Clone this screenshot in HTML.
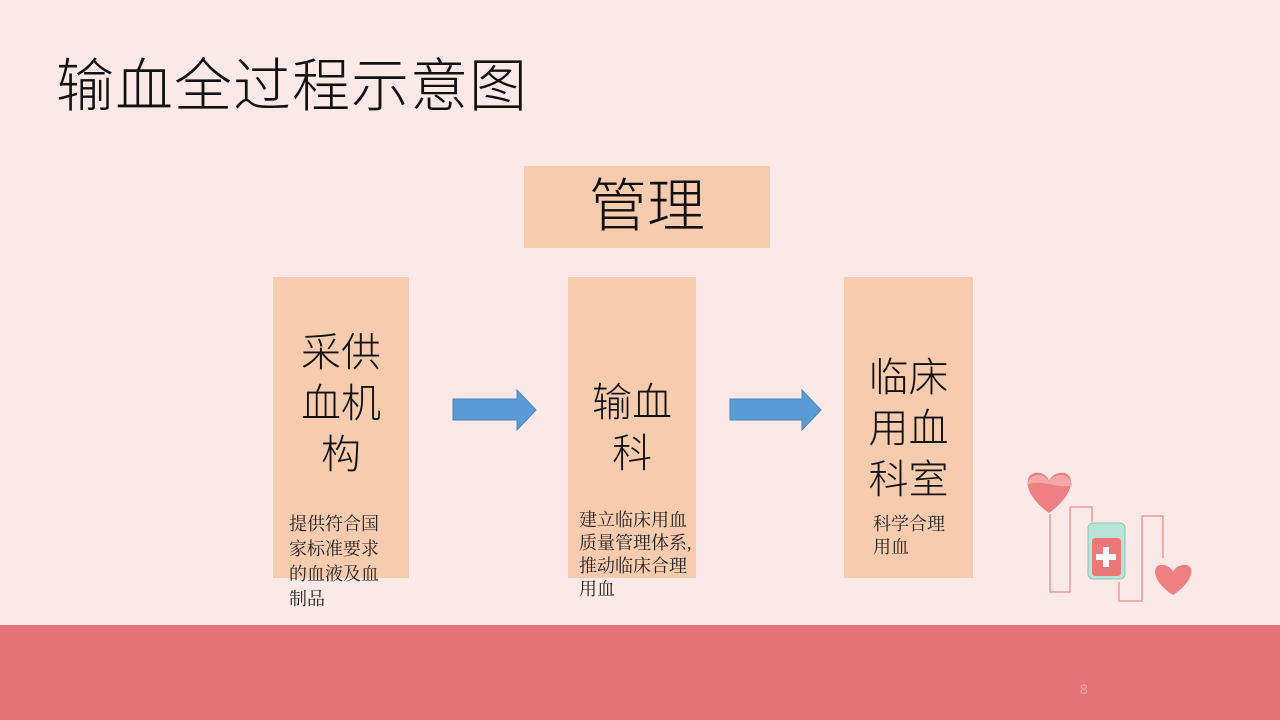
<!DOCTYPE html>
<html><head><meta charset="utf-8"><style>
body{margin:0;width:1280px;height:720px;background:#fbe9e7;position:relative;overflow:hidden;font-family:"Liberation Sans","Noto Sans CJK SC",sans-serif;}
.a{position:absolute}
.box{position:absolute;background:#f7cbae}
.big{position:absolute;font-size:40px;line-height:51px;color:#111;text-align:center;font-weight:300}
.sm{position:absolute;font-family:"Liberation Serif","Noto Serif CJK SC",serif;font-size:18px;line-height:25px;color:#222}
</style></head><body>
<div class="a" style="left:56px;top:52px;font-size:58px;line-height:70px;color:#111;font-weight:300;letter-spacing:1px">输血全过程示意图</div>
<div class="box" style="left:524px;top:166px;width:246px;height:82px"></div>
<div class="a" style="left:524px;top:172px;width:246px;text-align:center;font-size:58px;line-height:70px;color:#111;font-weight:300">管理</div>
<div class="box" style="left:273px;top:277px;width:136px;height:301px"></div>
<div class="box" style="left:568px;top:277px;width:128px;height:301px"></div>
<div class="box" style="left:844px;top:277px;width:129px;height:301px"></div>
<div class="big" style="left:273px;top:328px;width:136px">采供<br>血机<br>构</div>
<div class="big" style="left:568px;top:378px;width:128px">输血<br>科</div>
<div class="big" style="left:844px;top:353px;width:129px">临床<br>用血<br>科室</div>
<div class="sm" style="left:289px;top:512px">提供符合国<br>家标准要求<br>的血液及血<br>制品</div>
<div class="sm" style="left:579px;top:509px;line-height:23px">建立临床用血<br>质量管理体系,<br>推动临床合理<br>用血</div>
<div class="sm" style="left:873px;top:513px;line-height:23px">科学合理<br>用血</div>
<svg class="a" style="left:0;top:0" width="1280" height="720">
<polygon points="453,399 517,399 517,390 536,410 517,430 517,420 453,420" fill="#5b9bd5" stroke="#4a86be" stroke-width="1"/>
<polygon points="730,399 802,399 802,390 821,410 802,430 802,420 730,420" fill="#5b9bd5" stroke="#4a86be" stroke-width="1"/>
<path d="M1050,514 L1050,592 L1070,592 L1070,507 L1092,507 L1092,522" fill="none" stroke="#ee9a9a" stroke-width="1.5"/>
<path d="M1119,582 L1119,601 L1142,601 L1142,516 L1163,516 L1163,558" fill="none" stroke="#ee9a9a" stroke-width="1.5"/>
<path d="M1049,513 C1020,492 1024,470 1040,473 C1046,474 1049,479 1049,482 C1049,479 1053,474 1059,473 C1075,470 1078,492 1049,513Z" fill="#ee7f82"/>
<path d="M1027,485 C1030,472 1045,472 1049,482 C1053,472 1070,472 1072,485 C1060,490 1040,478 1027,485Z" fill="#f4a8a8"/>
<rect x="1088" y="523" width="37" height="56" rx="5" fill="#b9e3d6" stroke="#7fcab7"/>
<rect x="1092" y="538" width="29" height="38" rx="3" fill="#ee7878"/>
<rect x="1103" y="547" width="6" height="20" fill="#fff"/><rect x="1096" y="554" width="20" height="6" fill="#fff"/>
<path d="M1173,595 C1150,580 1152,563 1163,565 C1168,565 1173,570 1173,572 C1173,570 1178,565 1183,565 C1195,563 1196,580 1173,595Z" fill="#ee7f82"/>
<rect x="0" y="625" width="1280" height="95" fill="#e57277"/>
</svg>
<div class="a" style="left:1080px;top:681px;font-size:14px;color:#f3a9aa">8</div>
</body></html>
